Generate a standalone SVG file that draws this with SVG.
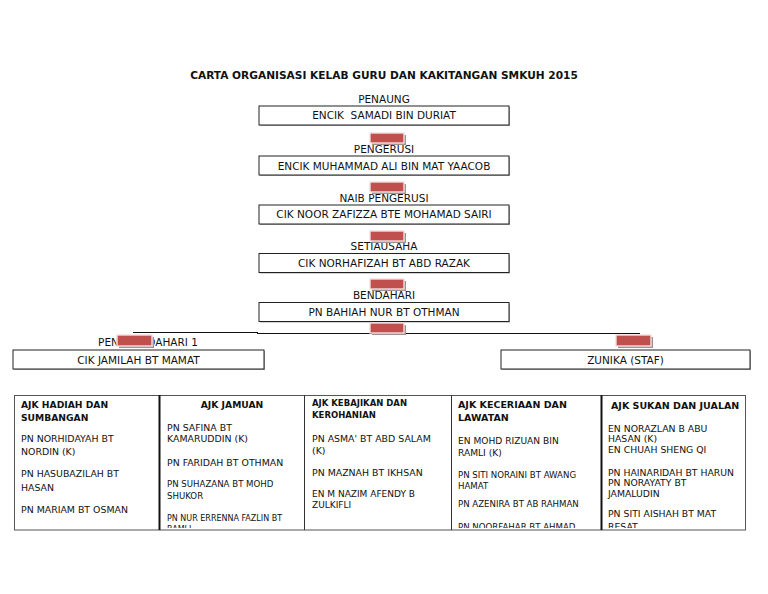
<svg xmlns="http://www.w3.org/2000/svg" width="768" height="594" viewBox="0 0 768 594">
<style>
  text { font-family: "DejaVu Sans", Verdana, sans-serif; fill: #111; }
  .title { font-size: 10.6px; font-weight: bold; text-anchor: middle; }
  .lbl { font-size: 10.5px; text-anchor: middle; }
  .box { fill: #fff; stroke: #222; stroke-width: 1; }
  .shadow { fill: #a8a8a8; }
  .hdr { font-size: 9.2px; font-weight: bold; }
  .t { font-size: 9.4px; }
  .s { font-size: 8.6px; }
  .xs { font-size: 8px; }
  .conn { stroke: #111; stroke-width: 1; fill: none; }
  .red { fill: #c0504d; stroke: #f3dede; stroke-width: 1.4; }
  .redsh { fill: #a09090; }
  .cell { fill: #fff; stroke: #555; stroke-width: 1; }
  .div { stroke: #333; stroke-width: 1; }
  .divb { stroke: #111; stroke-width: 2; }
</style>
<defs>
  <clipPath id="tableClip"><rect x="14" y="395" width="732" height="133"/></clipPath>
</defs>
<rect width="768" height="594" fill="#fff"/>

<text class="title" x="384" y="79">CARTA ORGANISASI KELAB GURU DAN KAKITANGAN SMKUH 2015</text>

<g id="connectors">
  <path class="conn" d="M133 332.5 H258"/>
  <path class="conn" d="M257 333.5 H640"/>
</g>

<g id="penaung">
  <text class="lbl" x="384" y="103">PENAUNG</text>
  <rect class="shadow" x="260" y="107" width="250" height="19"/>
  <rect class="box" x="259" y="106" width="250" height="19"/>
  <text class="lbl" x="384" y="119" xml:space="preserve">ENCIK  SAMADI BIN DURIAT</text>
</g>

<g id="pengerusi">
  <text class="lbl" x="384" y="152.5">PENGERUSI</text>
  <rect class="shadow" x="260" y="157" width="250" height="19"/>
  <rect class="box" x="259" y="156" width="250" height="19"/>
  <text class="lbl" x="384" y="169.5">ENCIK MUHAMMAD ALI BIN MAT YAACOB</text>
</g>

<g id="naib-pengerusi">
  <text class="lbl" x="384" y="201.5">NAIB PENGERUSI</text>
  <rect class="shadow" x="260" y="206" width="250" height="19"/>
  <rect class="box" x="259" y="205" width="250" height="19"/>
  <text class="lbl" x="384" y="218">CIK NOOR ZAFIZZA BTE MOHAMAD SAIRI</text>
</g>

<g id="setiausaha">
  <text class="lbl" x="384" y="250">SETIAUSAHA</text>
  <rect class="shadow" x="260" y="254.5" width="250" height="19"/>
  <rect class="box" x="259" y="253.5" width="250" height="19"/>
  <text class="lbl" x="384" y="266.5">CIK NORHAFIZAH BT ABD RAZAK</text>
</g>

<g id="bendahari">
  <text class="lbl" x="384" y="298.5">BENDAHARI</text>
  <rect class="shadow" x="260" y="303.5" width="250" height="19"/>
  <rect class="box" x="259" y="302.5" width="250" height="19"/>
  <text class="lbl" x="384" y="315.5">PN BAHIAH NUR BT OTHMAN</text>
</g>

<g id="pen-bendahari">
  <text class="lbl" x="148" y="345.5">PEN. BENDAHARI 1</text>
  <rect class="shadow" x="14" y="351" width="251" height="19"/>
  <rect class="box" x="13" y="350" width="251" height="19"/>
  <text class="lbl" x="138.5" y="363.5">CIK JAMILAH BT MAMAT</text>
</g>

<g id="staf">
  <rect class="shadow" x="502" y="351" width="249" height="19"/>
  <rect class="box" x="501" y="350" width="249" height="19"/>
  <text class="lbl" x="625.5" y="363.5">ZUNIKA (STAF)</text>
</g>

<g id="handles">
  <rect class="redsh" x="372" y="135" width="34" height="10"/>
  <rect class="red" x="370" y="133" width="34" height="10"/>
  <rect class="redsh" x="372" y="184" width="34" height="10"/>
  <rect class="red" x="370" y="182" width="34" height="10"/>
  <rect class="redsh" x="372" y="233" width="34" height="10"/>
  <rect class="red" x="370" y="231" width="34" height="10"/>
  <rect class="redsh" x="372" y="281" width="34" height="10"/>
  <rect class="red" x="370" y="279" width="34" height="10"/>
  <rect class="redsh" x="372" y="325" width="34" height="10"/>
  <rect class="red" x="370" y="323" width="34" height="10"/>
  <rect class="redsh" x="119" y="337" width="35" height="11"/>
  <rect class="red" x="117" y="335" width="35" height="11"/>
  <rect class="redsh" x="618" y="337" width="35" height="11"/>
  <rect class="red" x="616" y="335" width="35" height="11"/>
</g>

<g id="ajk-table">
  <rect class="cell" x="14.5" y="395.5" width="731" height="134.5"/>
  <line class="divb" x1="159.5" y1="395" x2="159.5" y2="530"/>
  <line class="div" x1="304.5" y1="395" x2="304.5" y2="530"/>
  <line class="div" x1="451.5" y1="395" x2="451.5" y2="530"/>
  <line class="divb" x1="601.5" y1="395" x2="601.5" y2="530"/>
</g>

<g clip-path="url(#tableClip)">
  <g id="ajk-hadiah">
    <text class="hdr" x="21" y="407.5">AJK HADIAH DAN</text>
    <text class="hdr" x="21" y="420.5">SUMBANGAN</text>
    <text class="t" x="21" y="442">PN NORHIDAYAH BT</text>
    <text class="t" x="21" y="455">NORDIN (K)</text>
    <text class="t" x="21" y="477">PN HASUBAZILAH BT</text>
    <text class="t" x="21" y="490.5">HASAN</text>
    <text class="t" x="21" y="513">PN MARIAM BT OSMAN</text>
  </g>
  <g id="ajk-jamuan">
    <text class="hdr" x="232" y="407.5" text-anchor="middle">AJK JAMUAN</text>
    <text class="t" x="167" y="430.5">PN SAFINA BT</text>
    <text class="t" x="167" y="442">KAMARUDDIN (K)</text>
    <text class="t" x="167" y="465.5">PN FARIDAH BT OTHMAN</text>
    <text class="s" x="167" y="487">PN SUHAZANA BT MOHD</text>
    <text class="s" x="167" y="498.5">SHUKOR</text>
    <text class="xs" x="167" y="520.5">PN NUR ERRENNA FAZLIN BT</text>
    <text class="xs" x="167" y="532">RAMLI</text>
  </g>
  <g id="ajk-kebajikan">
    <text class="hdr" x="312" y="406" style="font-size:8.5px">AJK KEBAJIKAN DAN</text>
    <text class="hdr" x="312" y="418" style="font-size:8.5px">KEROHANIAN</text>
    <text class="t" x="312" y="441.5">PN ASMA' BT ABD SALAM</text>
    <text class="t" x="312" y="453.5">(K)</text>
    <text class="t" x="312" y="475.5">PN MAZNAH BT IKHSAN</text>
    <text class="s" x="312" y="496.5" style="font-size:9px">EN M NAZIM AFENDY B</text>
    <text class="s" x="312" y="508" style="font-size:9px">ZULKIFLI</text>
  </g>
  <g id="ajk-keceriaan">
    <text class="hdr" x="458" y="407.5" style="font-size:9.5px">AJK KECERIAAN DAN</text>
    <text class="hdr" x="458" y="420.5" style="font-size:9.5px">LAWATAN</text>
    <text class="t" x="458" y="443.5" style="font-size:9.1px">EN MOHD RIZUAN BIN</text>
    <text class="t" x="458" y="455.5" style="font-size:9.1px">RAMLI (K)</text>
    <text class="s" x="458" y="478">PN SITI NORAINI BT AWANG</text>
    <text class="s" x="458" y="488.5">HAMAT</text>
    <text class="s" x="458" y="506.5">PN AZENIRA BT AB RAHMAN</text>
    <text class="s" x="458" y="529.5">PN NOORFAHAR BT AHMAD</text>
  </g>
  <g id="ajk-sukan">
    <text class="hdr" x="611" y="408.5" style="font-size:9.5px">AJK SUKAN DAN JUALAN</text>
    <text class="t" x="608" y="432" style="font-size:9.3px">EN NORAZLAN B ABU</text>
    <text class="t" x="608" y="442" style="font-size:9.3px">HASAN (K)</text>
    <text class="t" x="608" y="453" style="font-size:9.3px">EN CHUAH SHENG QI</text>
    <text class="t" x="608" y="475.5" style="font-size:9.3px">PN HAINARIDAH BT HARUN</text>
    <text class="t" x="608" y="485.5" style="font-size:9.3px">PN NORAYATY BT</text>
    <text class="t" x="608" y="496.5" style="font-size:9.3px">JAMALUDIN</text>
    <text class="t" x="608" y="516.5" style="font-size:9.3px">PN SITI AISHAH BT MAT</text>
    <text class="t" x="608" y="530" style="font-size:9.3px">RESAT</text>
  </g>
</g>
</svg>
